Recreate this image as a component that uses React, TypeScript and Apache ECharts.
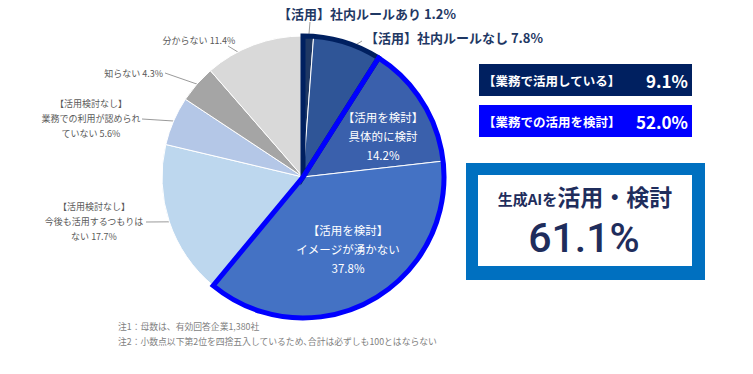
import React, { useEffect, useRef } from 'react';
import * as echarts from 'echarts';

// ---- data ----
const categories = [
  '【活用】社内ルールあり',
  '【活用】社内ルールなし',
  '【活用を検討】\n具体的に検討',
  '【活用を検討】\nイメージが湧かない',
  '【活用検討なし】\n今後も活用するつもりは\nない',
  '【活用検討なし】\n業務での利用が認められ\nていない',
  '知らない',
  '分からない',
];
const values = [1.2, 7.8, 14.2, 37.8, 17.7, 5.6, 4.3, 11.4];
// which summary group each slice belongs to (-1 = none)
const groupOf = [0, 0, 1, 1, -1, -1, -1, -1];
const groupNames = ['【業務で活用している】', '【業務での活用を検討】'];
const groupValues = [9.1, 52.0];
const totalTitleSmall = '生成AIを';
const totalTitleLarge = '活用・検討';
const totalValue = 61.1;
const notes = [
  '注1：母数は、有効回答企業1,380社',
  '注2：小数点以下第2位を四捨五入しているため､合計は必ずしも100とはならない',
];

// ---- styles / layout ----
const FONT = '"Noto Sans CJK JP", "Noto Sans", sans-serif';
const NUMFONT = 'Roboto, "Noto Sans", sans-serif';
const sliceColors = ['#1F3864', '#2F5597', '#3A60AC', '#4472C4', '#BDD7EE', '#B4C7E7', '#A5A5A5', '#D9D9D9'];
const groupColors = ['#002060', '#0000FF'];
const CX = 303;
const CY = 177;
const R = 141;
const labelSep = [' ', ' ', '\n', '\n', ' ', ' ', ' ', ' '];
const labelLayouts: any[] = [
  { x: 367, y: 13, align: 'center', lx: 310, ly: 22, rf: 0.92, da: 0 },
  { x: 454, y: 37, align: 'center', lx: 362, ly: 41, rf: 0.9, da: -2 },
  { x: 383, y: 136, align: 'center', inside: true },
  { x: 348, y: 249, align: 'center', inside: true },
  { x: 94, y: 221, align: 'center', lx: 146, ly: 222, rf: 1.0, da: 0 },
  { x: 91, y: 118, align: 'center', lx: 142, ly: 119, rf: 1.0, da: 0 },
  { x: 163, y: 73, align: 'right', lx: 165, ly: 73, rf: 1.0, da: 0 },
  { x: 199, y: 40, align: 'center', lx: 228, ly: 46, rf: 1.0, da: -7 },
];

const total = values.reduce((a, b) => a + b, 0);
function midAngleDeg(i: number) {
  let cum = 0;
  for (let k = 0; k < i; k++) cum += values[k];
  return ((cum + values[i] / 2) / total) * 360;
}

export default function App() {
  const ref = useRef<HTMLDivElement>(null);
  useEffect(() => {
    if (!ref.current) return;
    const chart = echarts.init(ref.current, undefined, { renderer: 'svg' });

    const baseData = values.map((v, i) => {
      const isTop = i <= 1;
      const isInside = i === 2 || i === 3;
      return {
        name: categories[i],
        value: v,
        itemStyle: { color: sliceColors[i] },
        label: isInside
          ? { position: 'inside', color: '#FFFFFF', fontSize: 11.5, lineHeight: 19 }
          : isTop
          ? { position: 'outside', color: '#1F3864', fontSize: 13, fontWeight: 'bold', lineHeight: 16 }
          : { position: 'outside' },
        labelLine: { show: !isInside },
      };
    });

    const groupSums = [0, 0];
    let rest = 0;
    values.forEach((v, i) => {
      if (groupOf[i] >= 0) groupSums[groupOf[i]] += v;
      else rest += v;
    });
    const overlayData = [
      { value: groupSums[0], itemStyle: { color: 'rgba(0,0,0,0)', borderColor: groupColors[0], borderWidth: 5 } },
      { value: groupSums[1], itemStyle: { color: 'rgba(0,0,0,0)', borderColor: groupColors[1], borderWidth: 5 } },
      { value: rest, itemStyle: { color: 'rgba(0,0,0,0)', borderWidth: 0 } },
    ];

    const graphics: any[] = [];
    groupNames.forEach((g, i) => {
      const y = 64 + i * 41;
      graphics.push({ type: 'rect', shape: { x: 479, y, width: 213, height: 32 }, style: { fill: groupColors[i] } });
      graphics.push({
        type: 'text', x: 483, y: y + 16,
        style: { text: g, fill: '#FFFFFF', fontSize: 12.5, fontFamily: FONT, fontWeight: 'bold', textAlign: 'left', textVerticalAlign: 'middle' },
      });
      graphics.push({
        type: 'text', x: 688, y: y + 16,
        style: { text: groupValues[i].toFixed(1) + '%', fill: '#FFFFFF', fontSize: 17, fontFamily: FONT, fontWeight: 'bold', textAlign: 'right', textVerticalAlign: 'middle' },
      });
    });
    graphics.push({ type: 'rect', shape: { x: 466, y: 163, width: 239, height: 117 }, style: { fill: '#0070C0' } });
    graphics.push({ type: 'rect', shape: { x: 478, y: 175, width: 214, height: 91 }, style: { fill: '#FFFFFF' } });
    graphics.push({
      type: 'text', x: 585, y: 196,
      style: {
        text: '{s|' + totalTitleSmall + '}{l|' + totalTitleLarge + '}',
        textAlign: 'center', textVerticalAlign: 'middle',
        rich: {
          s: { fontSize: 15, fontFamily: FONT, fontWeight: 'bold', fill: '#1F2D5C', verticalAlign: 'bottom', padding: [0, 0, 2, 0] },
          l: { fontSize: 23, fontFamily: FONT, fontWeight: 'bold', fill: '#1F2D5C', verticalAlign: 'bottom' },
        },
      },
    });
    graphics.push({
      type: 'text', x: 584, y: 238,
      style: { text: totalValue.toFixed(1) + '%', fill: '#1F2D5C', fontSize: 41, fontFamily: NUMFONT, fontWeight: 500, textAlign: 'center', textVerticalAlign: 'middle' },
    });
    notes.forEach((n, i) => {
      graphics.push({
        type: 'text', x: 118, y: 326 + i * 15,
        style: { text: n, fill: '#7F7F7F', fontSize: 8.8, fontFamily: FONT, textAlign: 'left', textVerticalAlign: 'middle' },
      });
    });

    chart.setOption({
      animation: false,
      backgroundColor: '#FFFFFF',
      series: [
        {
          type: 'pie',
          center: [CX, CY],
          radius: [0, R],
          startAngle: 90,
          clockwise: true,
          avoidLabelOverlap: false,
          silent: true,
          emphasis: { disabled: true },
          itemStyle: { borderColor: '#FFFFFF', borderWidth: 1 },
          label: {
            show: true,
            position: 'outside',
            color: '#595959',
            fontSize: 9,
            lineHeight: 15,
            fontFamily: FONT,
            formatter: (p: any) => p.name + labelSep[p.dataIndex] + Number(p.value).toFixed(1) + '%',
          },
          labelLine: { show: true, lineStyle: { color: '#808080', width: 0.8 } },
          labelLayout: (params: any) => {
            const i = params.dataIndex;
            const L = labelLayouts[i];
            if (!L) return {};
            if (L.inside) return { x: L.x, y: L.y, align: L.align, verticalAlign: 'middle' };
            const th = ((midAngleDeg(i) + (L.da || 0)) * Math.PI) / 180;
            const rr = R * L.rf;
            const end = [CX + rr * Math.sin(th), CY - rr * Math.cos(th)];
            return {
              x: L.x, y: L.y, align: L.align, verticalAlign: 'middle',
              labelLinePoints: [[L.lx, L.ly], end],
            };
          },
          data: baseData,
        },
        {
          type: 'pie',
          center: [CX, CY],
          radius: [0, R],
          startAngle: 90,
          clockwise: true,
          silent: true,
          emphasis: { disabled: true },
          label: { show: false },
          labelLine: { show: false },
          itemStyle: { borderJoin: 'miter' },
          data: overlayData,
        },
      ],
      graphic: graphics,
    });
    return () => chart.dispose();
  }, []);
  return <div ref={ref} style={{ position: 'absolute', left: 0, top: 0, width: 753, height: 374 }} />;
}
